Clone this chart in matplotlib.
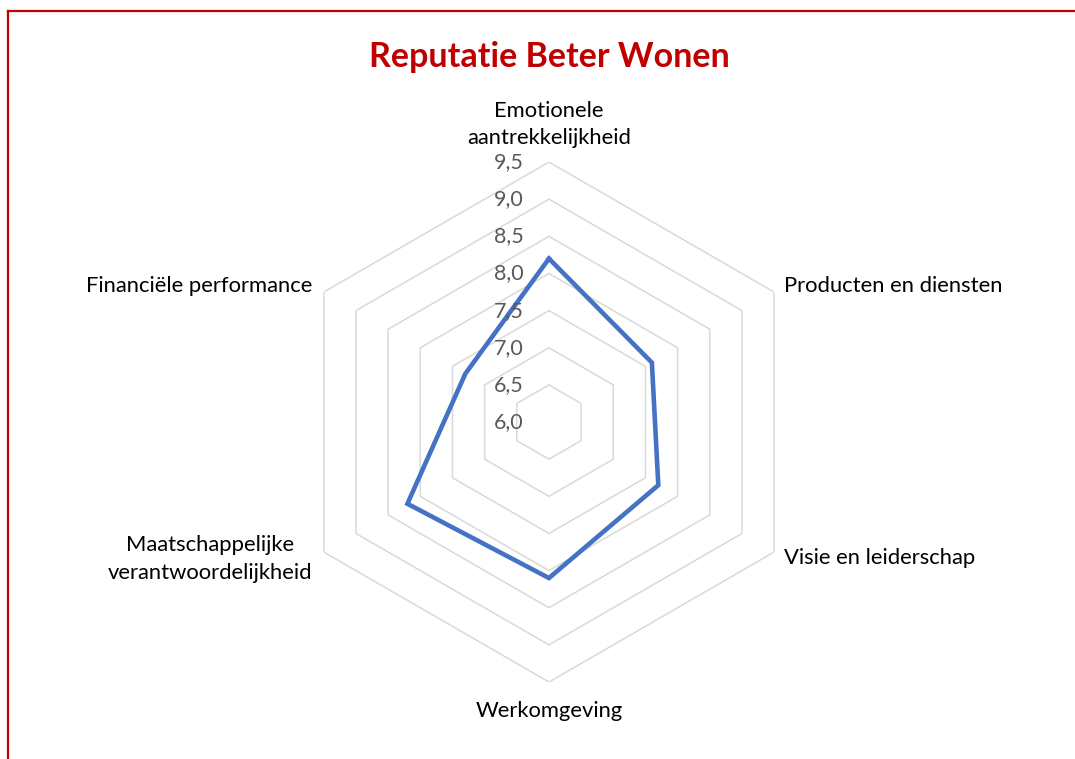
import numpy as np
import matplotlib
matplotlib.use("Agg")
import matplotlib.pyplot as plt
from matplotlib.lines import Line2D

categories = ["Emotionele\naantrekkelijkheid", "Producten en diensten", "Visie en leiderschap",
              "Werkomgeving", "Maatschappelijke\nverantwoordelijkheid", "Financiële performance"]
scores = [8.2, 7.6, 7.7, 8.1, 8.2, 7.3]
rings = [6.0, 6.5, 7.0, 7.5, 8.0, 8.5, 9.0, 9.5]
ring_labels = ["6,0", "6,5", "7,0", "7,5", "8,0", "8,5", "9,0", "9,5"]

plt.rcParams["font.family"] = ["Lato", "DejaVu Sans"]

fig = plt.figure(figsize=(10.75, 7.59), dpi=100)
ax = fig.add_axes([0.2688, 0.1014, 0.4837, 0.6851], projection="polar")
ax.set_theta_zero_location("N")
ax.set_theta_direction(-1)
ax.set_ylim(6.0, 9.5)
ax.grid(False)
ax.spines["polar"].set_visible(False)
ax.set_xticks([])
ax.set_yticks([])
ax.patch.set_alpha(0)

n = len(categories)
theta = np.linspace(0, 2 * np.pi, n, endpoint=False)
theta_closed = np.append(theta, theta[0])

# hexagon gridlines
for r in rings[1:]:
    ax.plot(theta_closed, [r] * (n + 1), color="#D9D9D9", lw=1.1, zorder=1)

ax.plot(theta_closed, scores + scores[:1], color="#4472C4", lw=3.3, zorder=3,
        solid_joinstyle="miter")

# scale labels along the top axis
for r, lab in zip(rings, ring_labels):
    ax.annotate(lab, xy=(0, r), xytext=(-18, 0), textcoords="offset points",
                ha="right", va="center", fontsize=15.5, color="#595959", zorder=4)

# category labels
offsets = [(0, 10, "center", "bottom"), (7, 4, "left", "center"), (7, -4, "left", "center"),
           (0, -14, "center", "top"), (-8, -5, "right", "center"), (-8, 4, "right", "center")]
for t, lab, (dx, dy, ha, va) in zip(theta, categories, offsets):
    ax.annotate(lab, xy=(t, 9.5), xytext=(dx, dy), textcoords="offset points",
                ha=ha, va=va, fontsize=15.8, color="#000000", multialignment="center",
                linespacing=1.45, annotation_clip=False)

fig.text(0.5107, 1 - 57 / 759, "Reputatie Beter Wonen", ha="center", va="center",
         fontsize=24.5, fontweight="bold", color="#C00000")

# red frame (top and left edges)
fig.add_artist(Line2D([8 / 1075, 1], [1 - 11 / 759, 1 - 11 / 759], color="#C00000", lw=1.6))
fig.add_artist(Line2D([8 / 1075, 8 / 1075], [0, 1 - 11 / 759], color="#C00000", lw=1.6))

fig.savefig("out.png", dpi=100, facecolor="white")
